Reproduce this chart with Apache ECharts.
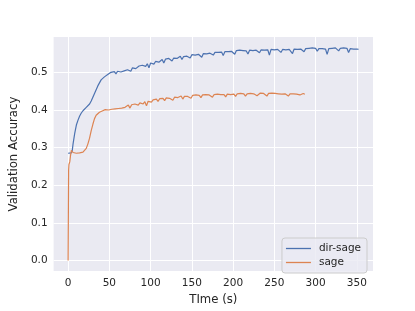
<!DOCTYPE html>
<html><head><meta charset="utf-8">
<script src="https://cdn.jsdelivr.net/npm/echarts@6/dist/echarts.min.js"></script>
<style>html,body{margin:0;padding:0;background:#fff}#c{width:415px;height:311px}</style>
</head><body><div id="c"></div>
<script>
const xTicks = [0, 50, 100, 150, 200, 250, 300, 350];
const yTicks = [0.0, 0.1, 0.2, 0.3, 0.4, 0.5];
const seriesNames = ['dir-sage', 'sage'];

const dirTime = [0,2,4,5,6,8,10,12,14,16,18,20,22,24,26,28,30,32,34,36,38,40,42,44,46,48,
50,52,54,56,58,60,62,64,66,68,70,72,74,76,78,80,82,84,86,88,90,92,94,96,98,
100,102,104,106,108,110,112,114,116,118,120,122,124,126,128,130,132,134,136,138,140,142,144,146,148,
150,152,154,156,158,160,162,164,166,168,170,172,174,176,178,180,182,184,186,188,190,192,194,196,198,
200,202,204,206,208,210,212,214,216,218,220,222,224,226,228,230,232,234,236,238,240,242,244,246,248,
250,252,254,256,258,260,262,264,266,268,270,272,274,276,278,280,282,284,286,288,290,292,294,296,298,
300,302,304,306,308,310,312,314,316,318,320,322,324,326,328,330,332,334,336,338,340,342,344,346,348,350,352];
const dirAcc = [0.285,0.285,0.286,0.292,0.310,0.338,0.360,0.373,0.384,0.392,0.398,0.403,0.407,0.411,0.416,0.424,0.434,0.444,0.454,0.464,0.472,0.480,0.484,0.488,0.491,0.494,
0.497,0.500,0.498,0.502,0.496,0.503,0.505,0.501,0.506,0.504,
0.509,0.507,0.511,0.503,0.512,0.514,0.510,0.515,0.517,0.513,
0.519,0.521,0.516,0.523,0.512,0.525,0.526,0.522,0.529,0.531,
0.527,0.532,0.534,0.525,0.535,0.533,0.537,0.536,0.530,0.538,
0.540,0.537,0.541,0.543,0.534,0.542,0.545,0.543,0.546,0.538,
0.547,0.549,0.546,0.550,0.548,0.551,0.540,0.550,0.552,0.549,
0.553,0.551,0.554,0.546,0.553,0.555,0.553,0.556,0.554,0.545,
0.555,0.557,0.555,0.558,0.556,0.557,0.548,0.558,0.557,0.559,
0.556,0.558,0.560,0.557,0.549,0.559,0.560,0.558,0.561,0.559,
0.560,0.552,0.560,0.562,0.559,0.561,0.560,0.546,0.561,0.562,
0.560,0.562,0.561,0.563,0.553,0.561,0.562,0.560,0.563,0.561,
0.562,0.550,0.562,0.564,0.561,0.563,0.562,0.564,0.555,0.563,
0.562,0.564,0.563,0.565,0.561,0.564,0.556,0.563,0.565,0.563,
0.564,0.562,0.548,0.563,0.565,0.564,0.562,0.565,0.563,0.557,
0.564,0.563,0.565,0.562,0.564,0.553,0.563,0.565,0.562,0.564,
0.562,0.561];

const sageTime = [0,0.3,0.6,1,2,3,4,5,6,8,10,12,14,16,18,20,22,24,26,28,30,32,34,36,38,40,42,43,
45,47,49,51,53,55,57,59,61,63,65,67,69,71,73,75,77,79,81,83,85,87,89,91,93,95,97,99,101,103,
105,107,109,111,113,115,117,119,121,123,125,127,129,131,133,135,137,139,141,143,145,147,149,151,153,155,157,159,161,163,
165,167,169,171,173,175,177,179,181,183,185,187,189,191,193,195,197,199,201,203,205,207,209,211,213,215,217,219,221,223,
225,227,229,231,233,235,237,239,241,243,245,247,249,251,253,255,257,259,261,263,265,267,269,271,273,275,277,279,281,283,285,287];
const sageAcc = [0.0,0.12,0.24,0.255,0.262,0.280,0.293,0.290,0.287,0.286,0.285,0.285,0.286,0.286,0.288,0.290,0.298,0.310,0.325,0.345,0.362,0.377,0.386,0.391,0.394,0.396,0.398,0.400,
0.401,0.403,0.400,0.404,0.402,0.405,0.403,0.406,0.404,0.408,
0.405,0.410,0.407,0.411,0.413,0.405,0.414,0.412,0.416,0.417,
0.413,0.419,0.420,0.416,0.422,0.411,0.423,0.425,0.421,0.427,
0.426,0.429,0.423,0.430,0.428,0.431,0.425,0.432,0.434,0.431,
0.433,0.426,0.434,0.436,0.433,0.435,0.437,0.429,0.436,0.438,
0.436,0.438,0.431,0.439,0.437,0.440,0.438,0.439,0.433,0.440,
0.439,0.441,0.438,0.440,0.442,0.434,0.441,0.440,0.442,0.439,
0.441,0.443,0.441,0.435,0.442,0.443,0.441,0.443,0.442,0.436,
0.443,0.442,0.444,0.441,0.443,0.437,0.443,0.442,0.444,0.442,
0.443,0.444,0.438,0.443,0.445,0.442,0.444,0.443,0.437,0.444,
0.443,0.445,0.442,0.444,0.439,0.443,0.444,0.442,0.445,0.443,
0.444,0.437,0.443,0.445,0.443,0.444,0.442,0.444,0.440,0.443,
0.444,0.442];

function zip(a, b) { return a.map((t, i) => [t, b[i]]); }

const font = 'DejaVu Sans';
const chart = echarts.init(document.getElementById('c'), null, {renderer: 'canvas'});
chart.setOption({
  animation: false,
  backgroundColor: '#ffffff',
  grid: {left: 52, right: 42, top: 37, bottom: 35, show: true, backgroundColor: '#EAEAF2', borderWidth: 0},
  xAxis: {
    type: 'value', min: -17.6, max: 369.6,
    name: 'TIme (s)', nameLocation: 'middle', nameGap: 20,
    nameTextStyle: {fontFamily: font, fontSize: 11.7, color: '#262626'},
    axisLine: {show: false}, axisTick: {show: false, customValues: xTicks},
    axisLabel: {customValues: xTicks, fontFamily: font, fontSize: 10.5, color: '#262626', margin: 7},
    splitLine: {show: true, lineStyle: {color: '#ffffff', width: 1}}
  },
  yAxis: {
    type: 'value', min: -0.0283, max: 0.594,
    name: 'Validation Accuracy', nameLocation: 'middle', nameGap: 31,
    nameTextStyle: {fontFamily: font, fontSize: 11.7, color: '#262626'},
    axisLine: {show: false}, axisTick: {show: false, customValues: yTicks},
    axisLabel: {customValues: yTicks, fontFamily: font, fontSize: 10.5, color: '#262626', margin: 6,
      formatter: v => v.toFixed(1)},
    splitLine: {show: true, lineStyle: {color: '#ffffff', width: 1}}
  },
  legend: {
    orient: 'vertical', right: 48, bottom: 38,
    data: seriesNames,
    backgroundColor: 'rgba(234,234,242,0.8)', borderColor: '#cccccc', borderWidth: 1, borderRadius: 3,
    padding: [5, 6, 5, 4], itemGap: 3, itemWidth: 25, itemHeight: 14,
    textStyle: {fontFamily: font, fontSize: 10.5, color: '#262626', padding: [0, 0, 0, 3]},
    icon: 'path://M0,0 L25,0 L25,1.3 L0,1.3 Z'
  },
  series: [
    {name: seriesNames[0], type: 'line', data: zip(dirTime, dirAcc), showSymbol: false,
     lineStyle: {width: 1.2, color: '#4C72B0'}, itemStyle: {color: '#4C72B0'}},
    {name: seriesNames[1], type: 'line', data: zip(sageTime, sageAcc), showSymbol: false,
     lineStyle: {width: 1.2, color: '#DD8452'}, itemStyle: {color: '#DD8452'}}
  ]
});
</script></body></html>
